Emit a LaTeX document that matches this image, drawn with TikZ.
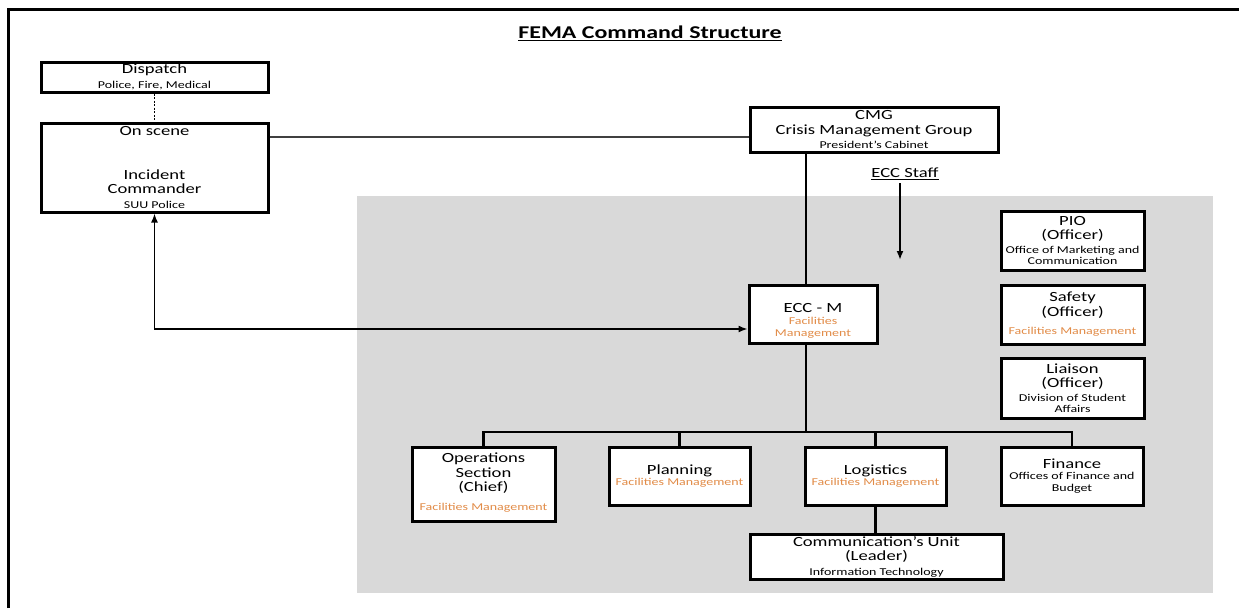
\documentclass[tikz,border=0pt]{standalone}
\usepackage{fontspec}
\setmainfont{Carlito}[FakeStretch=1.33]
\usetikzlibrary{positioning,arrows.meta}
\definecolor{panelgray}{RGB}{217,217,217}
\definecolor{fmorange}{RGB}{226,140,72}
\newcommand{\bigtxt}{\fontsize{14}{14.5}\selectfont}
\newcommand{\smalltxt}{\fontsize{10.5}{11.5}\selectfont}
\newcommand{\facman}{{\smalltxt\color{fmorange}Facilities Management}}

\begin{document}
\begin{tikzpicture}[x=1pt, y=-1pt,
	unitbox/.style={draw, line width=3pt, fill=white, align=center, inner sep=0pt, font=\bigtxt},
	link/.style={line width=2.3pt},
	thinlink/.style={line width=1.5pt, black!75},
	tip/.style={-{Latex[length=9pt,width=7pt]}}]
	\useasboundingbox (0,0) rectangle (1239,608);
	%frame
	\draw[line width=3pt] (8,608) -- (8,9) -- (1239,9);
	%panel
	\fill[panelgray] (357,196) rectangle (1213,593);
	%title
	\node (title) at (650,33) {\fontsize{18}{20}\selectfont\bfseries\underline{FEMA Command Structure}};
	%left side
	\node[unitbox, minimum width=227, minimum height=30] (dispatch) at (154.5,77) {Dispatch\\{\smalltxt Police, Fire, Medical}};
	\node[unitbox, minimum width=227, minimum height=89] (onscene) at (154.5,167.5) {On scene\\[29pt]Incident\\Commander\\{\smalltxt SUU Police}};
	%top
	\node[unitbox, minimum width=248, minimum height=45] (cmg) at (874,129.5) {CMG\\Crisis Management Group\\{\smalltxt President's Cabinet}};
	\node[font=\bigtxt] (staff) at (905,174) {\underline{ECC Staff}};
	\node[unitbox, minimum width=128, minimum height=58] (eccm) at (813,314) {\rule{0pt}{22pt}ECC - M\\[-2pt]{\color{fmorange}\smalltxt Facilities}\\[-3pt]{\color{fmorange}\smalltxt Management}};
	%officers
	\node[unitbox, minimum width=143, minimum height=59] (pio) at (1072.5,240.5) {PIO\\(Officer)\\[-1pt]{\smalltxt Office of Marketing and}\\[-3pt]{\smalltxt Communication}};
	\node[unitbox, minimum width=143, minimum height=59] (safety) at (1072.5,314.5) {Safety\\(Officer)\\[4pt]\facman};
	\node[unitbox, minimum width=143, minimum height=60] (liaison) at (1072.5,388) {Liaison\\(Officer)\\[-1pt]{\smalltxt Division of Student}\\[-3pt]{\smalltxt Affairs}};
	%sections
	\node[unitbox, minimum width=143, minimum height=74] (ops) at (483.5,484) {Operations\\Section\\(Chief)\\[4pt]\facman\rule[-5pt]{0pt}{5pt}};
	\node[unitbox, minimum width=141, minimum height=58] (planning) at (679.5,476) {Planning\\[-3pt]\facman};
	\node[unitbox, minimum width=141, minimum height=58] (logistics) at (875.5,476) {Logistics\\[-3pt]\facman};
	\node[unitbox, minimum width=142, minimum height=58] (finance) at (1072,476) {Finance\\[-3pt]{\smalltxt Offices of Finance and}\\[-3pt]{\smalltxt Budget}};
	\node[unitbox, minimum width=253, minimum height=45] (comm) at (876.5,556.5) {Communication's Unit\\(Leader)\\{\smalltxt Information Technology}};
	%connectors
	\coordinate (trunk) at (806,432);
	\coordinate (linky) at (0,137);
	\coordinate (corner) at (154.5,329);
	\coordinate (staffend) at (900,260);
	\draw[line width=1.5pt, dash pattern=on 2pt off 1.5pt] (dispatch.south) -- (onscene.north);
	\draw[thinlink] (onscene.east |- linky) -- (cmg.west |- linky);
	\draw[link] (cmg.south -| trunk) -- (eccm.north -| trunk);
	\draw[link] (eccm.south -| trunk) -- (trunk);
	\draw[link, tip] (staff.south -| staffend) -- (staffend);
	\draw[thinlink, black, {Latex[length=9pt,width=7pt]}-{Latex[length=9pt,width=7pt]}] (onscene.south) -- (corner) -- (eccm.west |- corner);
	\draw[link] (ops.north) -- (ops.north |- trunk) -- (finance.north |- trunk) -- (finance.north);
	\draw[link] (planning.north) -- (planning.north |- trunk);
	\draw[link] (logistics.north) -- (logistics.north |- trunk);
	\draw[link] (logistics.south) -- (logistics.south |- comm.north);
\end{tikzpicture}
\end{document}
